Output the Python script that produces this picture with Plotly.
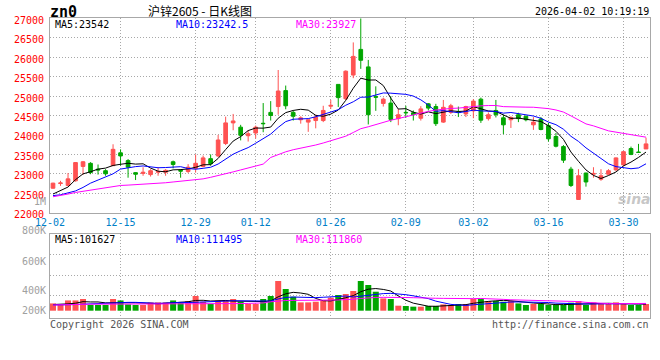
import plotly.graph_objects as go

# ---------------- data ----------------
dates = ["12-02", "12-03", "12-04", "12-05", "12-08", "12-09", "12-10", "12-11", "12-12",
         "12-15", "12-16", "12-17", "12-18", "12-19", "12-22", "12-23", "12-24", "12-25", "12-26",
         "12-29", "12-30", "12-31",
         "01-05", "01-06", "01-07", "01-08", "01-09", "01-12", "01-13", "01-14", "01-15", "01-16",
         "01-19", "01-20", "01-21", "01-22", "01-23", "01-26", "01-27", "01-28", "01-29", "01-30",
         "02-02", "02-03", "02-04", "02-05", "02-06", "02-09", "02-10", "02-11", "02-12", "02-13",
         "02-24", "02-25", "02-26", "02-27",
         "03-02", "03-03", "03-04", "03-05", "03-06", "03-09", "03-10", "03-11", "03-12", "03-13",
         "03-16", "03-17", "03-18", "03-19", "03-20", "03-23", "03-24", "03-25", "03-26", "03-27",
         "03-30", "03-31", "04-01", "04-02"]

opens = [22630, 22750, 22700, 22820, 23190, 23270, 23120, 23080, 23210, 23540,
         23340, 23030, 23010, 22980, 23040, 23040, 23310, 23090, 23060, 23140,
         23190, 23390, 23460, 23780, 24310, 24200, 23980, 24050, 24300, 24580,
         24730, 25140, 24580, 24390, 24330, 24370, 24370, 24740, 25300, 24930,
         25540, 26200, 25750, 24990, 24810, 24820, 24420, 24580, 24570, 24430,
         24800, 24730, 24330, 24580, 24590, 24540, 24620, 24920, 24420, 24630,
         24440, 24390, 24520, 24480, 24260, 24410, 24240, 23960, 23700, 23120,
         22340, 23020, 22990, 22860, 22990, 23100, 23230, 23650, 23560, 23640]
highs = [22770, 22820, 23020, 23300, 23330, 23300, 23240, 23120, 23760, 23630,
         23380, 23040, 23170, 23120, 23170, 23120, 23340, 23120, 23250, 23500,
         23470, 23500, 24000, 24470, 24540, 24260, 24120, 24240, 24820, 24870,
         25670, 25270, 24630, 24480, 24390, 24520, 24750, 24900, 25300, 25660,
         26380, 27000, 25930, 25250, 24960, 25000, 24670, 24750, 24630, 24740,
         24820, 24800, 24900, 24800, 24730, 24750, 24920, 24960, 24580, 24900,
         24520, 24480, 24570, 24500, 24460, 24460, 24310, 24050, 23740, 23180,
         23120, 23030, 23170, 23120, 23120, 23420, 23590, 23700, 23770, 23930]
lows = [22620, 22690, 22690, 22800, 22975, 22990, 22980, 22950, 23200, 23210,
        22900, 22840, 22950, 22930, 22950, 22950, 23140, 22900, 23020, 23030,
        23170, 23210, 23430, 23740, 24120, 23860, 23830, 23910, 24070, 24370,
        24520, 24660, 24370, 24290, 24080, 24170, 24330, 24670, 24720, 24900,
        25460, 25700, 24270, 24620, 24730, 24330, 24250, 24440, 24370, 24370,
        24630, 24230, 24310, 24540, 24460, 24460, 24430, 24310, 24370, 24450,
        24020, 24180, 24330, 24350, 24130, 24120, 23830, 23680, 23280, 22660,
        22340, 22670, 22900, 22820, 22970, 23080, 23190, 23480, 23540, 23640]
closes = [22760, 22765, 22870, 23290, 23310, 23035, 23100, 23000, 23630, 23460,
          23170, 22990, 23040, 23080, 23060, 23090, 23240, 23070, 23170, 23270,
          23410, 23260, 23870, 24310, 24360, 23990, 24030, 24200, 24290, 24500,
          25130, 24750, 24480, 24440, 24390, 24460, 24630, 24760, 24960, 25640,
          26020, 25920, 24520, 24970, 24920, 24400, 24520, 24570, 24520, 24670,
          24690, 24290, 24710, 24750, 24580, 24730, 24870, 24380, 24520, 24520,
          24260, 24450, 24420, 24390, 24330, 24140, 23900, 23710, 23350, 22700,
          22950, 22790, 23010, 22950, 23080, 23410, 23570, 23500, 23550, 23770]
volumes_k = [112, 88, 158, 158, 180, 88, 88, 88, 180, 158,
             97, 88, 88, 128, 128, 128, 158, 128, 149, 226,
             138, 103, 154, 165, 180, 138, 103, 103, 180, 226,
             457, 334, 215, 128, 128, 138, 158, 200, 242, 257,
             303, 457, 395, 292, 189, 180, 77, 72, 62, 62,
             72, 72, 97, 88, 103, 103, 180, 180, 149, 149,
             138, 149, 112, 88, 103, 103, 88, 88, 88, 123,
             149, 88, 128, 103, 103, 128, 103, 88, 88, 103]

# moving-average values before enough bars are on screen
ma5_head = [22480, 22560, 22660, 22850]
ma10_head = [22440, 22460, 22510, 22560, 22650, 22760, 22840, 22910, 23000]
ma30_head = [22410, 22440, 22480, 22520, 22550, 22580, 22610, 22640, 22670, 22700,
             22710, 22720, 22730, 22740, 22750, 22770, 22790, 22810, 22830, 22850,
             22870, 22910, 22950, 23000, 23050, 23100, 23150, 23190, 23250]
vol_ma5_head_k = [95, 95, 105, 115]
vol_ma10_head_k = [88, 88, 90, 95, 100, 105, 110, 115, 120]
vol_ma30_head_k = [88, 88, 88, 90, 98, 100, 100, 100, 100, 101,
                   101, 101, 101, 101, 102, 102, 102, 103, 103, 103,
                   103, 104, 105, 106, 108, 110, 112, 116, 120]

tick_dates = ["12-02", "12-15", "12-29", "01-12", "01-26", "02-09", "03-02", "03-16", "03-30"]
price_ticks = [22000, 22500, 23000, 23500, 24000, 24500, 25000, 25500, 26000, 26500, 27000]
vol_labels = ["800K", "600K", "400K", "200K"]

symbol_text = "zn0"
title_text = "沪锌2605 - 日K线图"
time_text = "2026-04-02 10:19:19"
price_legend = ["MA5:23542", "MA10:23242.5", "MA30:23927"]
vol_legend = ["MA5:101627", "MA10:111495", "MA30:111860"]
footer_left = "Copyright 2026 SINA.COM"
footer_right = "http://finance.sina.com.cn"

# ---------------- style / layout ----------------
RED = "#FF5252"
GREEN = "#00A600"
GRID = "#A8A8A8"
BORDER = "#A8A8A8"
MONO = "DejaVu Sans Mono"
W, H = 660, 360
PL, PR, PT, PB = 50, 650, 18, 318


def moving_average(values, n, head):
    out = list(head)
    for i in range(len(head), len(values)):
        window = values[i - n + 1:i + 1]
        out.append(sum(window) / n)
    return out


volumes = [v * 1000 for v in volumes_k]
x = list(range(len(dates)))
ma5 = moving_average(closes, 5, ma5_head)
ma10 = moving_average(closes, 10, ma10_head)
ma30 = moving_average(closes, 30, ma30_head)
vma5 = moving_average(volumes, 5, [v * 1000 for v in vol_ma5_head_k])
vma10 = moving_average(volumes, 10, [v * 1000 for v in vol_ma10_head_k])
vma30 = moving_average(volumes, 30, [v * 1000 for v in vol_ma30_head_k])

bar_colors = [RED if c >= o else GREEN for o, c in zip(opens, closes)]
tick_idx = [dates.index(d) for d in tick_dates]
x_range = [-0.4, len(dates) - 1 + 0.53]
tick_pos = [x_range[0] if i == 0 else i for i in tick_idx]

fig = go.Figure()
fig.add_trace(go.Candlestick(
    x=x, open=opens, high=highs, low=lows, close=closes,
    increasing=dict(line=dict(color=RED, width=1), fillcolor=RED),
    decreasing=dict(line=dict(color=GREEN, width=1), fillcolor=GREEN),
    whiskerwidth=0, hoverinfo="skip", xaxis="x", yaxis="y"))
for vals, col in [(ma5, "#000000"), (ma10, "#0000FF"), (ma30, "#FF00FF")]:
    fig.add_trace(go.Scatter(x=x, y=vals, mode="lines", line=dict(color=col, width=1),
                             hoverinfo="skip", xaxis="x", yaxis="y"))

fig.add_trace(go.Bar(x=x, y=volumes, marker=dict(color=bar_colors, line=dict(width=0)),
                     width=0.8, hoverinfo="skip", xaxis="x2", yaxis="y2"))
for vals, col in [(vma5, "#000000"), (vma10, "#0000FF"), (vma30, "#FF00FF")]:
    fig.add_trace(go.Scatter(x=x, y=vals, mode="lines", line=dict(color=col, width=1),
                             hoverinfo="skip", xaxis="x2", yaxis="y2"))


def px_x(v):
    return (v - PL) / (PR - PL)


def px_y(v):
    return (PB - v) / (PB - PT)


def vol_val(y_px):
    # volume panel: bar base at y=310.7, 6.5 px per 100K
    return (310.7 - y_px) / 6.5 * 100000


price_top = px_y(18.3)
price_bot = px_y(212.7)
vol_top = px_y(234.3)

axis_common = dict(showgrid=True, gridcolor=GRID, gridwidth=1, griddash="1px,2px",
                   showline=True, linecolor=BORDER, linewidth=1, mirror=True,
                   zeroline=False, ticks="", fixedrange=True, automargin=False)

fig.update_layout(
    template="none",
    width=W, height=H,
    margin=dict(l=PL, r=W - PR, t=PT, b=H - PB, autoexpand=False),
    paper_bgcolor="white", plot_bgcolor="white",
    showlegend=False,
    font=dict(family=MONO, size=10, color="#000000"),
    xaxis=dict(domain=[0, 1], anchor="y", range=x_range, tickmode="array",
               tickvals=tick_pos, ticktext=tick_dates,
               tickfont=dict(family=MONO, size=10, color="#0080C8"),
               rangeslider=dict(visible=False), **axis_common),
    yaxis=dict(domain=[price_bot, price_top], anchor="x", range=[22000, 27000],
               tickmode="array", tickvals=price_ticks,
               ticktext=[str(v) for v in price_ticks],
               tickfont=dict(family=MONO, size=10, color="#FF0000"),
               ticklabelstandoff=3, ticklabelshift=2, **axis_common),
    xaxis2=dict(domain=[0, 1], anchor="y2", matches="x", range=x_range, tickmode="array",
                tickvals=tick_pos, showticklabels=False, **axis_common),
    yaxis2=dict(domain=[0, vol_top], anchor="x2",
                range=[vol_val(PB), vol_val(234.3)], tickmode="array",
                tickvals=[vol_val(295.5), vol_val(275.1), vol_val(254.7)],
                showticklabels=False, **axis_common),
    bargap=0.2,
)

ann = []


def add_text(text, xp, yp, color="#000000", size=10, xanchor="left", family=MONO):
    ann.append(dict(text=text, x=px_x(xp), y=px_y(yp), xref="paper", yref="paper",
                    xanchor=xanchor, yanchor="middle", showarrow=False,
                    font=dict(family=family, size=size, color=color)))


add_text("<b>" + symbol_text + "</b>", 63, 12, size=15, xanchor="center")
add_text(title_text, 200, 11, size=12, family="Noto Sans CJK SC", xanchor="center")
add_text(time_text, 651, 12, xanchor="right")

ma_cols = ["#000000", "#0000FF", "#FF00FF"]
for t, xp, c in zip(price_legend, [53, 174, 294], ma_cols):
    add_text(t, xp, 24, color=c)
for t, xp, c in zip(vol_legend, [53, 174, 294], ma_cols):
    add_text(t, xp, 239.5, color=c)

for t, yp in zip(vol_labels, [230.7, 261, 290.7, 310.7]):
    add_text(t, 48, yp, color="#A0A0A0", xanchor="right")
add_text("1M", 48, 201, color="#A0A0A0", xanchor="right")

add_text(footer_left, 48, 324, color="#555555")
add_text(footer_right, 651, 324, color="#555555", xanchor="right")

add_text("<b><i>sina</i></b>", 634, 199, color="rgba(150,150,150,0.55)", size=14,
         xanchor="center", family="DejaVu Sans")

fig.update_layout(annotations=ann)
fig.write_html(
    "out.html",
    include_plotlyjs=True,
    config={"displayModeBar": False, "staticPlot": True},
    post_script="document.body.style.margin='0px';document.body.style.padding='0px';",
)
